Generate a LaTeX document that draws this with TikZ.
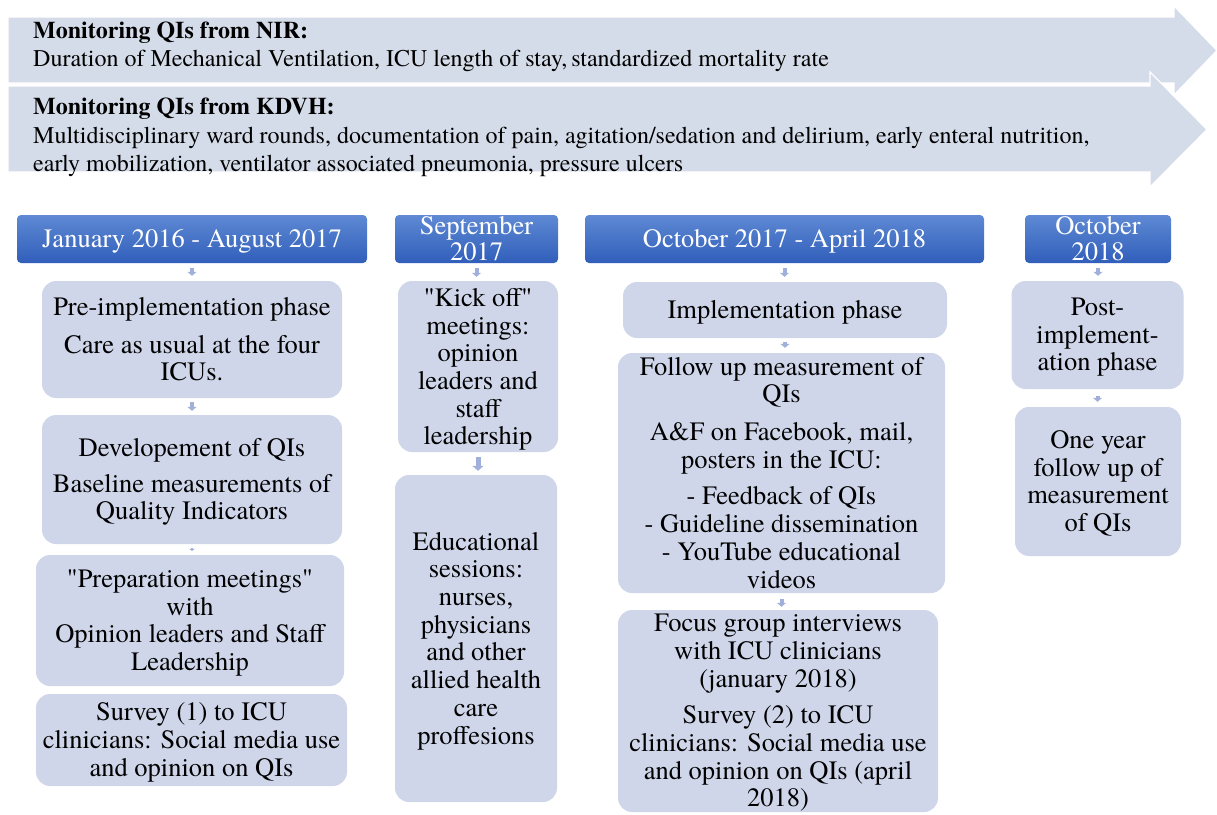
\documentclass[tikz,border=0pt]{standalone}
\usepackage{fontspec}
\setmainfont{texgyretermes}[Extension=.otf, UprightFont=*-regular, BoldFont=*-bold, ItalicFont=*-italic, BoldItalicFont=*-bolditalic, Ligatures=TeXOff]
\usetikzlibrary{arrows.meta}
\definecolor{boxc}{RGB}{207,214,234}
\definecolor{bandc}{RGB}{213,220,233}
\definecolor{hdtop}{RGB}{95,137,212}
\definecolor{hdbot}{RGB}{48,94,186}
\definecolor{arrc}{RGB}{160,176,218}
\begin{document}
\begin{tikzpicture}[x=1pt,y=-1pt,
  hdr/.style={rounded corners=4pt, top color=hdtop, bottom color=hdbot, text=white, inner sep=0pt, align=center, font=\fontsize{26.5}{26}\selectfont},
  box/.style={rounded corners=14pt, fill=boxc, inner sep=0pt, align=center, text depth=1pt, font=\fontsize{26.5}{27.7}\selectfont},
  band/.style={fill=bandc, draw=white, line width=1.2pt},
  bandtxt/.style={anchor=west, align=left, inner sep=0pt, font=\fontsize{24}{28.5}\selectfont},
  conn/.style={draw=arrc, line width=4pt, -{Triangle[width=9pt,length=4pt]}},
  bigconn/.style={draw=arrc, line width=5pt, -{Triangle[width=11pt,length=5pt]}},
  tinyconn/.style={draw=arrc, line width=2pt, -{Triangle[width=6pt,length=2pt]}},
]
\useasboundingbox (0,0) rectangle (1217,814);

% top bands
\path[band] (8,17) -- (1174,17) -- (1174,6) -- (1217,50.5) -- (1174,95) -- (1174,83) -- (8,83) -- cycle;
\path[band] (8,86) -- (1150,86) -- (1150,72) -- (1207,129.5) -- (1150,187) -- (1150,172) -- (8,172) -- cycle;
\node[bandtxt] (t1) at (33,47) {\textbf{Monitoring QIs from NIR:}\\Duration of Mechanical Ventilation, ICU length of stay,\,standardized mortality rate};
\node[bandtxt] (t2) at (33,137.5) {\textbf{Monitoring QIs from KDVH:}\\Multidisciplinary ward rounds, documentation of pain, agitation/sedation and delirium, early enteral nutrition,\\early mobilization, ventilator associated pneumonia, pressure ulcers};

% headers
\node[hdr, text depth=2pt, minimum width=350pt, minimum height=48pt] (h1) at (192,239) {January 2016 - August 2017};
\node[hdr, minimum width=163pt, minimum height=48pt] (h2) at (476.5,239) {September\\2017};
\node[hdr, text depth=2pt, minimum width=399pt, minimum height=48pt] (h3) at (784.5,239) {October 2017 - April 2018};
\node[hdr, minimum width=146pt, minimum height=48pt] (h4) at (1098,239) {October\\2018};

% column 1
\node[box, minimum width=300pt, minimum height=117pt] (b11) at (192,339.5) {Pre-implementation phase\\[10pt]Care as usual at the four\\ICUs.};
\node[box, minimum width=300pt, minimum height=129pt] (b12) at (192,479.5) {Developement of QIs\\[8pt]Baseline measurements of\\Quality Indicators};
\node[box, minimum width=308pt, minimum height=131pt] (b13) at (190,620.5) {"Preparation meetings"\\with\\Opinion leaders and Staff\\Leadership};
\node[box, minimum width=311pt, minimum height=92pt] (b14) at (191.5,740) {Survey (1) to ICU\\clinicians: Social media use\\and opinion on QIs};

% column 2
\node[box, text depth=0pt, minimum width=160pt, minimum height=171pt] (b21) at (478,366.5) {"Kick off"\\meetings:\\opinion\\leaders and\\staff\\leadership};
\node[box, minimum width=162pt, minimum height=327pt] (b22) at (476,638.5) {Educational\\sessions:\\nurses,\\physicians\\and other\\allied health\\care\\proffesions};

% column 3
\node[box, minimum width=324pt, minimum height=56pt] (b31) at (785,310) {Implementation phase};
\node[box, minimum width=327pt, minimum height=240pt] (b32) at (781.5,473) {Follow up measurement of\\QIs\\[10pt]A\&F on Facebook, mail,\\posters in the ICU:\\[9pt]- Feedback of QIs\\- Guideline dissemination\\- YouTube educational\\videos};
\node[box, minimum width=320pt, minimum height=202pt] (b33) at (778,711) {Focus group interviews\\with ICU clinicians\\(january 2018)\\[9pt]Survey (2) to ICU\\clinicians: Social media use\\and opinion on QIs (april\\2018)};

% column 4
\node[box, minimum width=172pt, minimum height=108pt] (b41) at (1097.5,335) {Post-\\implement-\\ation phase};
\node[box, minimum width=166pt, minimum height=149pt] (b42) at (1098,481.5) {One year\\follow up of\\measurement\\of QIs};

% connectors
\draw[conn] ([yshift=-5pt]h1.south) -- ([yshift=5pt]h1.south |- b11.north);
\draw[conn] ([yshift=-5pt]h2.south) -- ([yshift=4pt]h2.south |- b21.north);
\draw[conn] ([yshift=-5pt]h3.south) -- ([yshift=5pt]h3.south |- b31.north);
\draw[conn] ([yshift=-5pt]h4.south) -- ([yshift=5pt]h4.south |- b41.north);
\draw[conn] ([yshift=-4pt]b11.south) -- ([yshift=4pt]b11.south |- b12.north);
\draw[tinyconn] ([yshift=-3.5pt]b12.south) -- ([yshift=4pt]b12.south |- b13.north);
\draw[bigconn] ([yshift=-5pt]b21.south) -- ([yshift=4pt]b21.south |- b22.north);
\draw[conn] ([yshift=-4pt]b31.south) -- ([yshift=5pt]b31.south |- b32.north);
\draw[conn] ([yshift=-6pt]b32.south) -- ([yshift=3pt]b32.south |- b33.north);
\draw[conn] ([yshift=-7pt]b41.south) -- ([yshift=5pt]b41.south |- b42.north);
\end{tikzpicture}
\end{document}
